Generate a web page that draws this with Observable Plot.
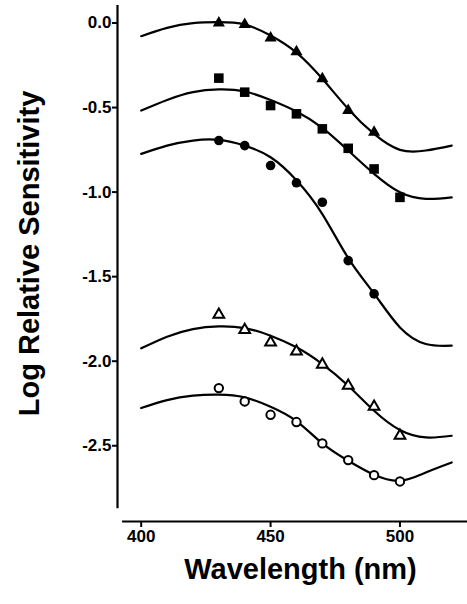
<!DOCTYPE html>
<html>
<head>
<meta charset="utf-8">
<script src="https://cdn.jsdelivr.net/npm/d3@7"></script>
<script src="https://cdn.jsdelivr.net/npm/@observablehq/plot@0.6"></script>
<style>
  html, body { margin: 0; padding: 0; background: #fff; }
</style>
</head>
<body>
<div id="chart"></div>
<script>
// ---- Fitted template curves ----
const curveWavelengths = [400, 410, 420, 430, 440, 450, 460, 470, 480, 490, 500, 510, 520];
const curveFilledTriangle = [-0.078, -0.029, -0.001, 0.005, -0.009, -0.074, -0.175, -0.33, -0.508, -0.656, -0.75, -0.754, -0.725];
const curveSquare        = [-0.518, -0.455, -0.409, -0.393, -0.405, -0.455, -0.523, -0.62, -0.754, -0.892, -1.001, -1.04, -1.031];
const curveFilledCircle  = [-0.774, -0.725, -0.695, -0.691, -0.725, -0.794, -0.93, -1.13, -1.39, -1.60, -1.80, -1.898, -1.908];
const curveOpenTriangle  = [-1.924, -1.855, -1.81, -1.794, -1.804, -1.849, -1.918, -2.017, -2.145, -2.293, -2.407, -2.451, -2.441];
const curveOpenCircle    = [-2.277, -2.23, -2.204, -2.198, -2.214, -2.269, -2.354, -2.486, -2.589, -2.672, -2.707, -2.658, -2.599];

// ---- Measured points ----
const markerWavelengths = [430, 440, 450, 460, 470, 480, 490, 500];
const filledTriangles = [0.0, -0.009, -0.088, -0.17, -0.33, -0.518, -0.646];
const squares         = [-0.326, -0.409, -0.488, -0.537, -0.626, -0.741, -0.863, -1.031];
const filledCircles   = [-0.695, -0.725, -0.843, -0.945, -1.06, -1.405, -1.602];
const openTriangles   = [-1.725, -1.815, -1.889, -1.942, -2.02, -2.145, -2.269, -2.44];
const openCircles     = [-2.159, -2.238, -2.317, -2.36, -2.486, -2.585, -2.674, -2.711];

// ---- Axes ----
const xTicks = [400, 450, 500];
const yTicks = [0, -0.5, -1.0, -1.5, -2.0, -2.5];
const xDomain = [390.84, 526.1];
const yDomain = [-2.948, 0.1036];
const xAxisLineExtent = [392.8, 526.1];
const yAxisLineExtent = [-2.873, 0.1036];
const xLabel = "Wavelength (nm)";
const yLabel = "Log Relative Sensitivity";

// build tables
const curves = [
  ["filledTriangle", curveFilledTriangle],
  ["square", curveSquare],
  ["filledCircle", curveFilledCircle],
  ["openTriangle", curveOpenTriangle],
  ["openCircle", curveOpenCircle]
];
const curveRows = curves.flatMap(([name, vals]) =>
  vals.map((v, i) => ({series: name, wl: curveWavelengths[i], v})));
const pts = arr => arr.map((v, i) => ({wl: markerWavelengths[i], v}));

const chart = Plot.plot({
  width: 467,
  height: 604,
  marginLeft: 117,
  marginRight: 0,
  marginTop: 5,
  marginBottom: 83,
  style: {
    fontFamily: "'Liberation Sans', Arial, Helvetica, sans-serif",
    fontWeight: "bold",
    fontSize: "17px",
    background: "#fff",
    color: "#000"
  },
  x: {domain: xDomain},
  y: {domain: yDomain},
  marks: [
    Plot.line(curveRows, {x: "wl", y: "v", z: "series", curve: "natural", stroke: "#000", strokeWidth: 2.2}),
    Plot.dot(pts(filledTriangles), {x: "wl", y: "v", symbol: d3.symbolTriangle, r: 4.5, fill: "#000", stroke: "none"}),
    Plot.dot(pts(squares), {x: "wl", y: "v", symbol: d3.symbolSquare, r: 5.4, fill: "#000", stroke: "none"}),
    Plot.dot(pts(filledCircles), {x: "wl", y: "v", symbol: "circle", r: 4.8, fill: "#000", stroke: "none"}),
    Plot.dot(pts(openTriangles), {x: "wl", y: "v", symbol: d3.symbolTriangle, r: 4.0, fill: "#fff", stroke: "#000", strokeWidth: 2}),
    Plot.dot(pts(openCircles), {x: "wl", y: "v", symbol: "circle", r: 4.2, fill: "#fff", stroke: "#000", strokeWidth: 2}),
    Plot.ruleX([xDomain[0]], {y1: yAxisLineExtent[0], y2: yAxisLineExtent[1], stroke: "#000", strokeWidth: 2.2}),
    Plot.ruleY([yDomain[0]], {x1: xAxisLineExtent[0], x2: xAxisLineExtent[1], stroke: "#000", strokeWidth: 2.2}),
    Plot.axisY({ticks: yTicks, tickFormat: d => d.toFixed(1), tickSize: 5, tickPadding: 1, strokeWidth: 2, fontSize: 17, label: null}),
    Plot.axisX({ticks: xTicks, tickFormat: d => String(d), tickSize: 6, tickPadding: 2, strokeWidth: 2, fontSize: 17, label: null}),
    Plot.text([xLabel], {frameAnchor: "bottom", dx: 8, dy: 57, fontSize: 29, fontWeight: "bold"}),
    Plot.text([yLabel], {frameAnchor: "left", textAnchor: "middle", rotate: -90, dx: -88, dy: -10, fontSize: 29, fontWeight: "bold"})
  ]
});
document.getElementById("chart").appendChild(chart);
</script>
</body>
</html>
